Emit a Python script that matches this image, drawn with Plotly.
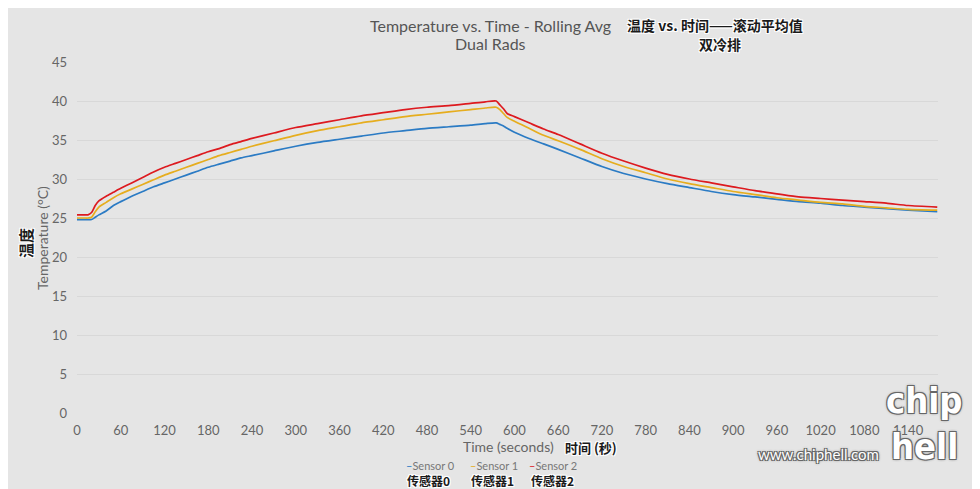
import plotly.graph_objects as go

# ---- data ----
time_s = [0, 10, 15, 20, 25, 30, 40, 50, 60, 75, 90, 105, 120, 135, 150, 165, 180, 195, 210,
          225, 240, 270, 300, 330, 360, 390, 420, 450, 480, 510, 540, 560, 575, 580, 585, 590,
          600, 620, 640, 660, 690, 720, 750, 780, 810, 840, 870, 900, 930, 960, 990, 1020,
          1050, 1080, 1110, 1140, 1180]

sensor0 = [24.8, 24.8, 24.8, 24.8, 25.1, 25.4, 25.9, 26.6, 27.1, 27.8, 28.4, 29.0, 29.5, 30.0,
           30.5, 31.0, 31.5, 31.9, 32.3, 32.7, 33.0, 33.6, 34.2, 34.7, 35.1, 35.5, 35.9, 36.2,
           36.5, 36.7, 36.9, 37.1, 37.2, 37.0, 36.8, 36.5, 36.0, 35.2, 34.5, 33.8, 32.7, 31.6,
           30.7, 30.0, 29.4, 28.9, 28.4, 28.0, 27.7, 27.4, 27.1, 26.9, 26.6, 26.4, 26.2, 26.0,
           25.8]

sensor1 = [25.0, 25.0, 25.0, 25.1, 25.8, 26.4, 27.0, 27.6, 28.1, 28.7, 29.3, 29.9, 30.5, 31.0,
           31.5, 32.0, 32.5, 33.0, 33.4, 33.8, 34.2, 34.9, 35.6, 36.2, 36.7, 37.2, 37.6, 38.0,
           38.3, 38.6, 38.9, 39.1, 39.2, 38.9, 38.4, 37.9, 37.4, 36.5, 35.6, 34.9, 33.8, 32.6,
           31.6, 30.8, 30.0, 29.4, 28.9, 28.4, 28.0, 27.6, 27.3, 27.0, 26.8, 26.5, 26.3, 26.1,
           26.0]

sensor2 = [25.4, 25.4, 25.4, 25.7, 26.6, 27.2, 27.8, 28.3, 28.8, 29.5, 30.2, 30.9, 31.5, 32.0,
           32.5, 33.0, 33.5, 33.9, 34.4, 34.8, 35.2, 35.9, 36.6, 37.1, 37.6, 38.1, 38.5, 38.9,
           39.2, 39.4, 39.7, 39.9, 40.0, 39.5, 39.0, 38.4, 38.0, 37.2, 36.4, 35.7, 34.5, 33.3,
           32.3, 31.4, 30.6, 30.0, 29.5, 29.0, 28.5, 28.1, 27.7, 27.5, 27.3, 27.1, 26.9, 26.6,
           26.4]

series_names = ["Sensor 0", "Sensor 1", "Sensor 2"]
series_cn = ["传感器0", "传感器1", "传感器2"]
colors = ["#2b7bc4", "#e6ad1e", "#dd1a1f"]
x_ticks = list(range(0, 1141, 60))
y_ticks = list(range(0, 46, 5))

LATIN = "Lato, 'Open Sans', sans-serif"
CJK = "Noto Sans CJK SC"
OUTLINE_W = "-1px -1px 0 #fff, 1px -1px 0 #fff, -1px 1px 0 #fff, 1px 1px 0 #fff, 0 0 2px #fff"
OUTLINE_D = "-1px -1px 0 #666, 1px -1px 0 #666, -1px 1px 0 #666, 1px 1px 0 #666, 0 0 3px #333"

fig = go.Figure()
for name, ys, c in zip(series_names, [sensor0, sensor1, sensor2], colors):
    fig.add_trace(go.Scatter(x=time_s, y=ys, mode="lines", name=name,
                             line=dict(color=c, width=1.7, shape="spline", smoothing=0.6),
                             showlegend=False))

OFF = 8  # page body margin
W, H = 980, 489
L, T = 77 - OFF, 62 - OFF
R = W - (938 - OFF)
B = H - (413 - OFF)
PW, PH = W - L - R, H - T - B


def px(xp):
    return (xp - OFF - L) / PW


def py(yp):
    return (H - B - (yp - OFF)) / PH


ann = []


def add(text, xp, yp, size, color, family, xanchor="center", bold=False, shadow=None, angle=0):
    f = dict(size=size, color=color, family=family)
    if bold:
        f["weight"] = "bold"
    if shadow:
        f["shadow"] = shadow
    ann.append(dict(text=text, x=px(xp), y=py(yp), xref="paper", yref="paper",
                    xanchor=xanchor, yanchor="middle", showarrow=False, font=f,
                    textangle=angle))


# titles
add("Temperature vs. Time - Rolling Avg", 490, 25, 16, "#555555", LATIN)
add("Dual Rads", 490, 44, 16, "#555555", LATIN)
add("温度 vs. 时间——滚动平均值", 715, 25, 14, "#1a1a1a", CJK, bold=True, shadow=OUTLINE_W)
add("双冷排", 720, 44, 14, "#1a1a1a", CJK, bold=True, shadow=OUTLINE_W)

# axis titles
add("Temperature (°C)", 43, 238, 14, "#666666", LATIN, angle=-90)
add("温度", 25, 243, 15, "#1a1a1a", CJK, bold=True, shadow=OUTLINE_W, angle=-90)
add("Time (seconds)", 508, 446, 14, "#666666", LATIN)
add("时间 (秒)", 591, 447, 13, "#1a1a1a", CJK, bold=True, shadow=OUTLINE_W)

# legend (as text)
leg_x = [430, 494, 553]
leg_cn_x = [428, 492, 552]
for nm, cn, c, xl, xc in zip(series_names, series_cn, colors, leg_x, leg_cn_x):
    add(f"<span style='color:{c}'>–</span>{nm}", xl, 465, 11, "#777777", LATIN)
    add(cn, xc, 480, 12, "#1a1a1a", CJK, bold=True, shadow=OUTLINE_W)

# watermark
add("www.chiphell.com", 818, 454, 15, "#ffffff", LATIN, shadow=OUTLINE_D)
add("chip", 924, 400, 36, "#ffffff", "DejaVu Sans Condensed", bold=True, shadow=OUTLINE_D)
add("hell", 924, 446, 36, "#ffffff", "DejaVu Sans Condensed", bold=True, shadow=OUTLINE_D)

fig.update_layout(
    width=W, height=H,
    margin=dict(l=L, r=R, t=T, b=B),
    paper_bgcolor="#e5e5e5",
    plot_bgcolor="#e5e5e5",
    font=dict(family=LATIN, color="#666666", size=13),
    annotations=ann,
    xaxis=dict(range=[0, 1181], tickvals=x_ticks, ticktext=[str(v) for v in x_ticks],
               showgrid=False, zeroline=False, showline=False, ticks="",
               ticklabelstandoff=8,
               tickfont=dict(size=13, color="#666666")),
    yaxis=dict(range=[0, 45], tickvals=y_ticks, showgrid=True, gridcolor="#d8d8d8",
               gridwidth=1, zeroline=False, showline=False, ticks="",
               ticklabelstandoff=9,
               tickfont=dict(size=13, color="#666666")),
)

fig.write_html("out.html")
